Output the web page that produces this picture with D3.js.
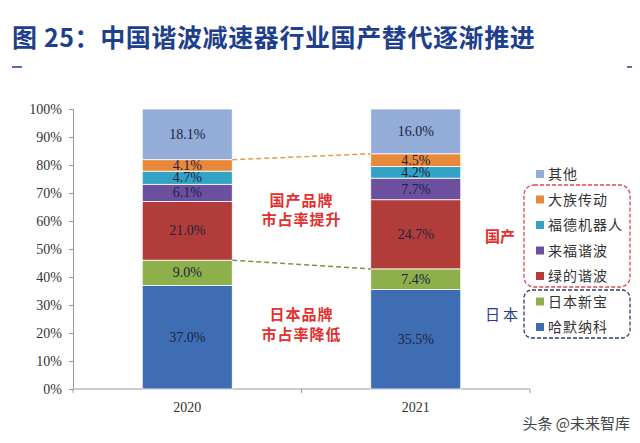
<!DOCTYPE html>
<html lang="zh">
<head>
<meta charset="UTF-8" />
<title>中国谐波减速器行业国产替代逐渐推进</title>
<script src="https://d3js.org/d3.v7.min.js"></script>
<style>
  body { margin: 0; background: #fff; }
  svg { display: block; }
  .serif { font-family: "Liberation Serif", "DejaVu Serif", serif; }
  .cjk { font-family: "Noto Sans CJK SC", sans-serif; }
</style>
</head>
<body>
<svg id="chart" width="640" height="443"></svg>
<script>
const years = ["2020", "2021"];
const brands = ["哈默纳科", "日本新宝", "绿的谐波", "来福谐波", "福德机器人", "大族传动", "其他"];
const colors = ["#3f6db3", "#8db04a", "#b23c39", "#6c4f9e", "#32a3c4", "#e8883a", "#93acd8"];
const share2020 = [37.0, 9.0, 21.0, 6.1, 4.7, 4.1, 18.1];
const share2021 = [35.5, 7.4, 24.7, 7.7, 4.2, 4.5, 16.0];
const yTicks = [0, 10, 20, 30, 40, 50, 60, 70, 80, 90, 100];
const legendOrder = ["其他", "大族传动", "福德机器人", "来福谐波", "绿的谐波", "日本新宝", "哈默纳科"];

const svg = d3.select("#chart");

// title
svg.append("text")
  .attr("class", "cjk")
  .attr("x", 12).attr("y", 47)
  .attr("font-size", 25).attr("font-weight", 700)
  .attr("fill", "#1e3e8e")
  .attr("letter-spacing", 0.6)
  .text("图 25：中国谐波减速器行业国产替代逐渐推进");
svg.append("line").attr("x1", 12).attr("x2", 22).attr("y1", 67).attr("y2", 67)
  .attr("stroke", "#1e3e8e").attr("stroke-width", 1.5);
svg.append("line").attr("x1", 627).attr("x2", 632).attr("y1", 67).attr("y2", 67)
  .attr("stroke", "#1e3e8e").attr("stroke-width", 1.5);

const x = d3.scaleBand().domain(years).range([73, 530]).paddingInner(0.606).paddingOuter(0.303);
const y = d3.scaleLinear().domain([0, 100]).range([389, 109]);

const rows = years.map((yr, i) => {
  const vals = i === 0 ? share2020 : share2021;
  const r = { year: yr };
  brands.forEach((b, j) => r[b] = vals[j]);
  return r;
});
const series = d3.stack().keys(brands)(rows);

// y axis
const yAxis = svg.append("g").attr("transform", "translate(73,0)")
  .call(d3.axisLeft(y).tickValues(yTicks).tickSize(4).tickFormat(d => d + "%"));
yAxis.selectAll("path, line").attr("stroke", "#999");
yAxis.selectAll("text").attr("class", "serif").attr("font-size", 14).attr("fill", "#333").attr("dx", -4);

// x axis
const xAxis = svg.append("g").attr("transform", "translate(0,389)");
xAxis.append("line").attr("x1", 73).attr("x2", 530).attr("stroke", "#999");
[73, (x("2020") + x.bandwidth() + x("2021")) / 2, 530].forEach(t =>
  xAxis.append("line").attr("x1", t).attr("x2", t).attr("y1", 0).attr("y2", 4).attr("stroke", "#999"));
xAxis.selectAll("text.cat").data(years).join("text")
  .attr("class", "serif cat")
  .attr("x", d => x(d) + x.bandwidth() / 2).attr("y", 23)
  .attr("text-anchor", "middle").attr("font-size", 14).attr("fill", "#333")
  .text(d => d);

// bars
const layer = svg.append("g").selectAll("g").data(series).join("g")
  .attr("fill", (d, i) => colors[i]);
layer.selectAll("rect").data(d => d).join("rect")
  .attr("x", d => x(d.data.year))
  .attr("width", x.bandwidth())
  .attr("y", d => y(d[1]))
  .attr("height", d => y(d[0]) - y(d[1]))
  .attr("stroke", "#fff").attr("stroke-width", 0.8);
layer.selectAll("text").data(d => d).join("text")
  .attr("class", "serif")
  .attr("x", d => x(d.data.year) + x.bandwidth() / 2)
  .attr("y", d => (y(d[0]) + y(d[1])) / 2)
  .attr("dy", "0.33em")
  .attr("text-anchor", "middle").attr("font-size", 14).attr("fill", "#1c2340")
  .text(d => (d[1] - d[0]).toFixed(1) + "%");

// dashed connectors: top of domestic block and top of Japanese block
const domTop = series[5];
const jpTop = series[1];
svg.append("line")
  .attr("x1", x("2020") + x.bandwidth()).attr("y1", y(domTop[0][1]))
  .attr("x2", x("2021")).attr("y2", y(domTop[1][1]))
  .attr("stroke", "#e39b4a").attr("stroke-width", 1.5).attr("stroke-dasharray", "5,3");
svg.append("line")
  .attr("x1", x("2020") + x.bandwidth()).attr("y1", y(jpTop[0][1]))
  .attr("x2", x("2021")).attr("y2", y(jpTop[1][1]))
  .attr("stroke", "#8a8f3a").attr("stroke-width", 1.5).attr("stroke-dasharray", "5,3");

// annotations
const midX = (x("2020") + x.bandwidth() + x("2021")) / 2;
[["国产品牌", 206], ["市占率提升", 225], ["日本品牌", 320], ["市占率降低", 340]].forEach(([t, ty]) =>
  svg.append("text").attr("class", "cjk")
    .attr("x", midX).attr("y", ty).attr("text-anchor", "middle")
    .attr("font-size", 15).attr("font-weight", 700).attr("fill", "#e2302e")
    .attr("letter-spacing", 1)
    .text(t));

// legend
const legY = d3.scalePoint().domain(legendOrder).range([174, 327]);
const leg = svg.append("g").selectAll("g").data(legendOrder).join("g")
  .attr("transform", d => `translate(536,${legY(d)})`);
leg.append("rect").attr("x", 0).attr("y", -4).attr("width", 8).attr("height", 8)
  .attr("fill", d => colors[brands.indexOf(d)]);
leg.append("text").attr("class", "cjk")
  .attr("x", 12).attr("dy", "0.36em").attr("font-size", 14).attr("fill", "#333")
  .attr("letter-spacing", 1)
  .text(d => d);

svg.append("rect").attr("x", 524).attr("y", 185).attr("width", 106).attr("height", 102)
  .attr("rx", 10).attr("fill", "none").attr("stroke", "#e04556")
  .attr("stroke-width", 1.3).attr("stroke-dasharray", "4,2");
svg.append("rect").attr("x", 524).attr("y", 290).attr("width", 106).attr("height", 48)
  .attr("rx", 8).attr("fill", "none").attr("stroke", "#2b3f6b")
  .attr("stroke-width", 1.3).attr("stroke-dasharray", "4,2");
svg.append("text").attr("class", "cjk").attr("x", 485).attr("y", 237).attr("dy", "0.36em")
  .attr("font-size", 15).attr("font-weight", 700).attr("fill", "#e2302e").text("国产");
svg.append("text").attr("class", "cjk").attr("x", 485).attr("y", 315).attr("dy", "0.36em")
  .attr("font-size", 15).attr("fill", "#1e3e8e").attr("letter-spacing", 3).text("日本");

// watermark
svg.append("text").attr("class", "cjk").attr("x", 630).attr("y", 429)
  .attr("text-anchor", "end").attr("font-size", 15).attr("fill", "#444")
  .text("头条 @未来智库");
</script>
</body>
</html>
